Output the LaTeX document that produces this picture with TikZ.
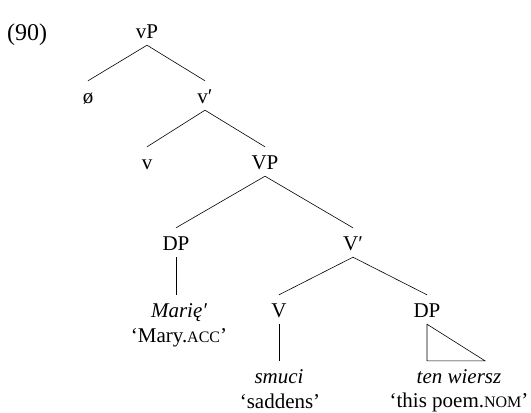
\documentclass[tikz,border=0pt]{standalone}
\usepackage{fontspec}
\setmainfont{Liberation Serif}

% small capitals for the glosses
\newcommand{\smcap}[1]{{\fontsize{16}{16}\selectfont #1}}

\begin{document}
\begin{tikzpicture}[x=1pt, y=-1pt,
            font=\fontsize{21}{24}\selectfont,
            catnode/.style={anchor=base, inner sep=0pt, text height=22pt, text depth=7pt},
            wordnode/.style={catnode, font=\fontsize{21}{24}\selectfont\itshape},
            glossnode/.style={anchor=base, inner sep=0pt},
            branch/.style={line width=0.6pt},
        ]
        \useasboundingbox (0,0) rectangle (531,413);

        %Nodes
        \node[anchor=base west, inner sep=0pt, font=\fontsize{24}{26}\selectfont] (exnum) at (7,40) {(90)};
        \node[catnode]   (vP)     at (147,38)  {vP};
        \node[catnode]   (null)   at (88,103)  {ø};
        \node[catnode]   (vbar)   at (205,103) {v′};
        \node[catnode]   (v)      at (147,169) {v};
        \node[catnode]   (VP)     at (265,169) {VP};
        \node[catnode]   (DPobj)  at (176,250) {DP};
        \node[catnode]   (Vbar)   at (353,250) {V′};
        \node[wordnode]  (marie)  at (179,317) {Marię′};
        \node[glossnode] (mary)   at (179,342) {‘Mary.\smcap{ACC}’};
        \node[catnode]   (V)      at (279,317) {V};
        \node[catnode]   (DPsubj) at (427,317) {DP};
        \node[wordnode]  (smuci)  at (279,383) {smuci};
        \node[glossnode] (sadden) at (280,408) {‘saddens’};
        \node[wordnode]  (wiersz) at (459,383) {ten wiersz};
        \node[glossnode] (poem)   at (459,407) {‘this poem.\smcap{NOM}’};

        %Lines
        \draw[branch] (vP.south) -- (null.north);
        \draw[branch] (vP.south) -- (vbar.north);
        \draw[branch] (vbar.south) -- (v.north);
        \draw[branch] (vbar.south) -- (VP.north);
        \draw[branch] (VP.south) -- (DPobj.north);
        \draw[branch] (VP.south) -- (Vbar.north);
        \draw[branch] (DPobj.south) -- (DPobj.south |- marie.north);
        \draw[branch] (Vbar.south) -- (V.north);
        \draw[branch] (Vbar.south) -- (DPsubj.north);
        \draw[branch] (V.south) -- (smuci.north);
        \draw[branch] (DPsubj.south) -- (DPsubj.south |- wiersz.north) -- ([xshift=26pt]wiersz.north) -- cycle;
    \end{tikzpicture}
\end{document}
